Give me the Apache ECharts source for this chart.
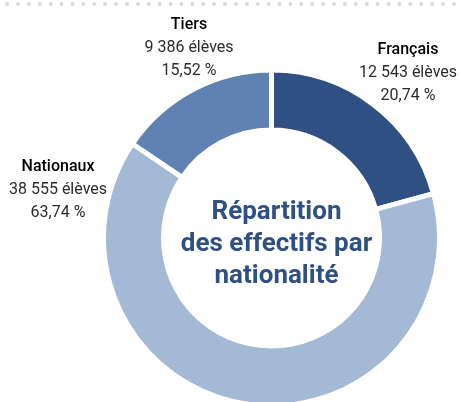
<!DOCTYPE html>
<html>
<head>
<meta charset="utf-8">
<script src="https://cdn.jsdelivr.net/npm/echarts@6/dist/echarts.min.js"></script>
<style>
  html, body { margin: 0; padding: 0; background: #fff; }
  #chart { width: 460px; height: 402px; }
</style>
</head>
<body>
<div id="chart"></div>
<script>
// données : effectifs par nationalité
var categories = ["Français", "Nationaux", "Tiers"];
var eleves = [12543, 38555, 9386];
var pourcentages = ["20,74", "63,74", "15,52"];
var couleurs = ["#2f5083", "#a4b9d6", "#5f82b3"];

// position des étiquettes (centre du texte)
var labelPos = {
  "Français": [408, 73],
  "Nationaux": [58, 190],
  "Tiers": [189, 48]
};

var labelFont = "'Roboto', sans-serif";

function fmt(n) {
  return String(n).replace(/\B(?=(\d{3})+(?!\d))/g, " ");
}

var chart = echarts.init(document.getElementById("chart"));

var option = {
  animation: false,
  graphic: [
    {
      type: "line",
      shape: { x1: 7, y1: 4, x2: 458, y2: 4 },
      style: { stroke: "#d9d9d9", lineWidth: 4, lineCap: "round", lineDash: [0.1, 10.8] }
    }
  ],
  title: {
    text: "Répartition\ndes effectifs par\nnationalité",
    left: 271.5,
    top: 239,
    textAlign: "center",
    textVerticalAlign: "middle",
    textStyle: {
      fontFamily: "Roboto",
      fontSize: 26,
      fontWeight: "bold",
      lineHeight: 32,
      color: "#2f5083"
    }
  },
  series: [
    {
      type: "pie",
      center: [271.5, 238],
      radius: [108, 168],
      startAngle: 90,
      clockwise: true,
      itemStyle: { borderColor: "#fff", borderWidth: 5 },
      emphasis: { disabled: true },
      labelLine: { show: false },
      label: {
        show: true,
        position: "outside",
        overflow: "none",
        fontFamily: labelFont,
        fontSize: 16,
        lineHeight: 23,
        color: "#2b2b2b",
        align: "center",
        formatter: function (p) {
          return "{n|" + p.name + "}\n" + fmt(p.value) + " élèves\n" + pourcentages[p.dataIndex] + " %";
        },
        rich: {
          n: { fontFamily: labelFont, fontSize: 16, lineHeight: 23, color: "#000", fontWeight: 500 }
        }
      },
      labelLayout: function (params) {
        var pos = labelPos[categories[params.dataIndex]];
        return { x: pos[0], y: pos[1], align: "center", verticalAlign: "middle" };
      },
      data: categories.map(function (c, i) {
        return { name: c, value: eleves[i], itemStyle: { color: couleurs[i] } };
      })
    }
  ]
};

chart.setOption(option);
</script>
</body>
</html>
